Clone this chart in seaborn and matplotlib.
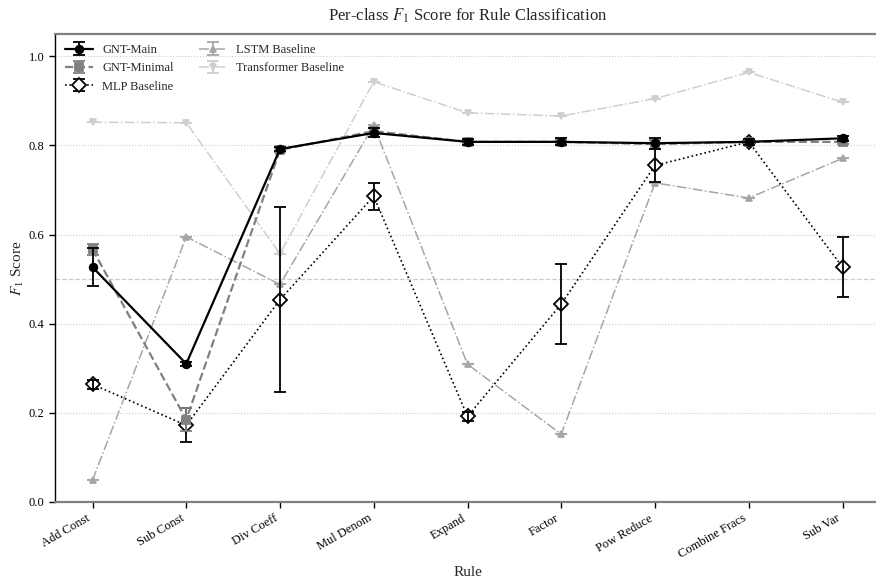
import numpy as np
import pandas as pd
import matplotlib
matplotlib.use("Agg")
import matplotlib.pyplot as plt
import seaborn as sns

rules = ["Add Const", "Sub Const", "Div Coeff", "Mul Denom", "Expand",
         "Factor", "Pow Reduce", "Combine Fracs", "Sub Var"]

gnt_main = [0.527, 0.310, 0.792, 0.828, 0.808, 0.808, 0.805, 0.808, 0.816]
gnt_main_err = [0.043, 0.005, 0.005, 0.010, 0.006, 0.008, 0.012, 0.006, 0.005]

gnt_min = [0.567, 0.185, 0.790, 0.832, 0.808, 0.808, 0.803, 0.808, 0.808]
gnt_min_err = [0.012, 0.025, 0.005, 0.006, 0.005, 0.005, 0.010, 0.005, 0.005]

mlp = [0.264, 0.172, 0.454, 0.686, 0.192, 0.444, 0.755, 0.808, 0.527]
mlp_err = [0.010, 0.038, 0.207, 0.030, 0.010, 0.089, 0.037, 0.005, 0.068]

lstm = [0.049, 0.595, 0.488, 0.845, 0.309, 0.152, 0.716, 0.682, 0.771]
lstm_err = [0, 0, 0, 0, 0, 0, 0, 0, 0]

transformer = [0.852, 0.851, 0.557, 0.943, 0.873, 0.866, 0.905, 0.964, 0.897]
transformer_err = [0, 0, 0, 0, 0, 0, 0, 0, 0]

series_names = ["GNT-Main", "GNT-Minimal", "MLP Baseline", "LSTM Baseline", "Transformer Baseline"]
series_vals = [gnt_main, gnt_min, mlp, lstm, transformer]
series_errs = [gnt_main_err, gnt_min_err, mlp_err, lstm_err, transformer_err]

styles = {
    "GNT-Main": dict(color="black", ls="-", marker="o", ms=5.5, lw=1.6, mfc="black", mec="black", z=6),
    "GNT-Minimal": dict(color="#808080", ls="--", marker="s", ms=5.5, lw=1.6, mfc="#808080", mec="#808080", z=5),
    "MLP Baseline": dict(color="black", ls=":", marker="D", ms=7, lw=1.2, mfc="white", mec="black", z=4),
    "LSTM Baseline": dict(color="#a6a6a6", ls="-.", marker="^", ms=5, lw=1.1, mfc="#a6a6a6", mec="#a6a6a6", z=3),
    "Transformer Baseline": dict(color="#cfcfcf", ls="-.", marker="v", ms=5, lw=1.1, mfc="#cfcfcf", mec="#cfcfcf", z=2),
}

sns.set_style("white")
plt.rcParams["font.family"] = ["Liberation Serif", "DejaVu Serif"]
plt.rcParams["mathtext.fontset"] = "stix"

fig = plt.figure(figsize=(8.76, 5.8), dpi=100)
ax = fig.add_axes([55 / 876, 78 / 580, 825 / 876, 468 / 580])

x = np.arange(len(rules))
handles = []
for name, vals, errs in zip(series_names, series_vals, series_errs):
    st = styles[name]
    df = pd.DataFrame({"x": x, "y": vals})
    sns.lineplot(data=df, x="x", y="y", ax=ax, color=st["color"], linestyle=st["ls"],
                 linewidth=st["lw"], marker=st["marker"], markersize=st["ms"],
                 markerfacecolor=st["mfc"], markeredgecolor=st["mec"],
                 markeredgewidth=1.3, zorder=st["z"], legend=False)
    ax.errorbar(x, vals, yerr=errs, fmt="none", ecolor=st["color"],
                elinewidth=1.3, capsize=4, capthick=1.3, zorder=st["z"])
    h = ax.errorbar([np.nan], [np.nan], yerr=[np.nan], color=st["color"], linestyle=st["ls"],
                    linewidth=st["lw"], marker=st["marker"], markersize=st["ms"],
                    markerfacecolor=st["mfc"], markeredgecolor=st["mec"], markeredgewidth=1.3,
                    elinewidth=1.3, capsize=4, capthick=1.3, label=name)
    handles.append(h)

# grid and reference line
for yv in [0.2, 0.4, 0.6, 0.8, 1.0]:
    ax.axhline(yv, color="#cccccc", linestyle=":", linewidth=0.8, zorder=0)
ax.axhline(0.5, color="#cccccc", linestyle="--", linewidth=0.9, zorder=0)

ax.set_xlim(-0.4, 8.4)
ax.set_ylim(0, 1.05)
ax.set_xticks(x)
ax.set_xticklabels(rules, rotation=30, ha="right", fontsize=9)
ax.set_yticks([0.0, 0.2, 0.4, 0.6, 0.8, 1.0])
ax.set_yticklabels(["0.0", "0.2", "0.4", "0.6", "0.8", "1.0"], fontsize=9)
ax.tick_params(axis="both", which="both", direction="out", length=4, width=1, bottom=True, left=True,
               colors="black")

ax.set_xlabel("Rule", fontsize=11)
ax.set_ylabel("$F_1$ Score", fontsize=11, labelpad=2)
ax.set_title("Per-class $F_1$ Score for Rule Classification", fontsize=12, pad=10)

for s in ["top", "bottom"]:
    ax.spines[s].set_color("#808080")
    ax.spines[s].set_linewidth(1.6)
ax.spines["left"].set_color("black")
ax.spines["left"].set_linewidth(1.0)
ax.spines["right"].set_visible(False)

ax.legend(handles=handles, labels=series_names, loc="upper left", ncol=2, frameon=False,
          fontsize=9, handlelength=2.2, columnspacing=2.0, borderaxespad=0.4,
          bbox_to_anchor=(0.0, 1.0))

fig.savefig("out.png", dpi=100)
